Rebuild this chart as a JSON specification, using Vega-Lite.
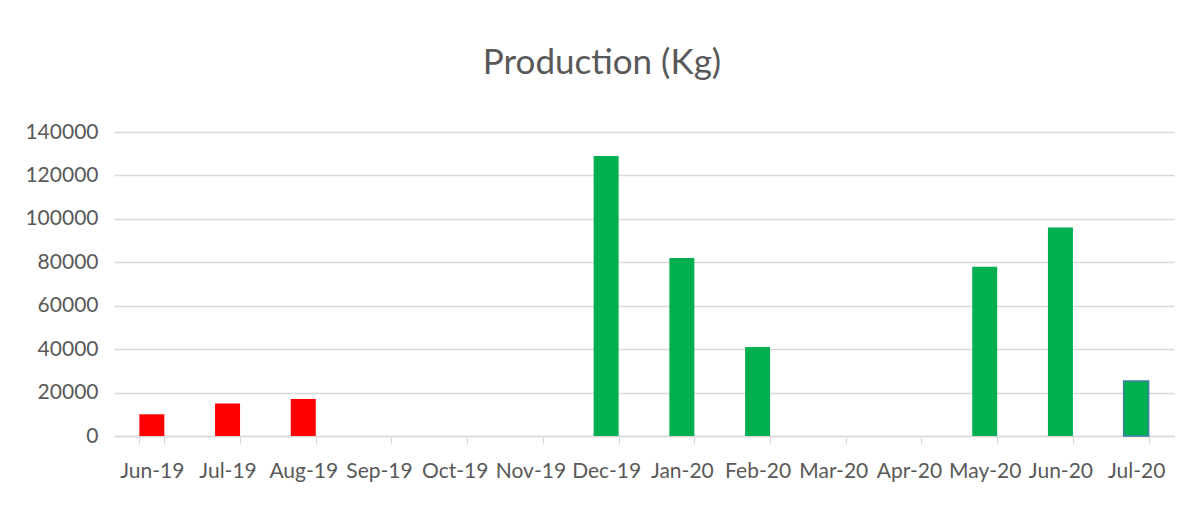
{
  "$schema": "https://vega.github.io/schema/vega-lite/v6.json",
  "autosize": {"type": "none"},
  "width": 1060,
  "height": 304,
  "padding": {"left": 114, "top": 132, "right": 23, "bottom": 74},
  "background": "white",
  "title": {
    "text": "Production (Kg)",
    "font": "Lato",
    "fontSize": 35,
    "fontWeight": "normal",
    "color": "#595959",
    "anchor": "middle",
    "dx": -42,
    "offset": 40
  },
  "data": {
    "values": [
      {"month": "Jun-19", "kg": 10000, "season": "first"},
      {"month": "Jul-19", "kg": 15000, "season": "first"},
      {"month": "Aug-19", "kg": 17000, "season": "first"},
      {"month": "Sep-19", "kg": 0, "season": "first"},
      {"month": "Oct-19", "kg": 0, "season": "first"},
      {"month": "Nov-19", "kg": 0, "season": "first"},
      {"month": "Dec-19", "kg": 129000, "season": "second"},
      {"month": "Jan-20", "kg": 82000, "season": "second"},
      {"month": "Feb-20", "kg": 41000, "season": "second"},
      {"month": "Mar-20", "kg": 0, "season": "second"},
      {"month": "Apr-20", "kg": 0, "season": "second"},
      {"month": "May-20", "kg": 78000, "season": "second"},
      {"month": "Jun-20", "kg": 96000, "season": "second"},
      {"month": "Jul-20", "kg": 25300, "season": "second"}
    ]
  },
  "mark": {"type": "bar"},
  "encoding": {
    "x": {
      "field": "month",
      "type": "nominal",
      "sort": null,
      "scale": {"paddingInner": 0.67, "paddingOuter": 0.335},
      "axis": {
        "title": null,
        "labelAngle": 0,
        "labelFont": "Lato",
        "labelFontSize": 21,
        "labelColor": "#595959",
        "labelPadding": 16,
        "tickBand": "extent",
        "tickColor": "#d9d9d9",
        "tickSize": 8,
        "domainColor": "#d9d9d9",
        "domainWidth": 1.5,
        "grid": false
      }
    },
    "y": {
      "field": "kg",
      "type": "quantitative",
      "scale": {"domain": [0, 140000], "nice": false},
      "axis": {
        "title": null,
        "values": [0, 20000, 40000, 60000, 80000, 100000, 120000, 140000],
        "format": "d",
        "labelFont": "Lato",
        "labelFontSize": 21,
        "labelColor": "#595959",
        "labelPadding": 16,
        "domain": false,
        "ticks": false,
        "grid": true,
        "gridColor": "#d9d9d9",
        "gridWidth": 1.5
      }
    },
    "color": {
      "field": "season",
      "type": "nominal",
      "scale": {"domain": ["first", "second"], "range": ["#ff0000", "#00b050"]},
      "legend": null
    },
    "stroke": {
      "condition": {"test": "datum.month === 'Jul-20'", "value": "#3f7ea6"},
      "value": null
    },
    "strokeWidth": {"value": 1.5}
  },
  "config": {"view": {"stroke": null}}
}
